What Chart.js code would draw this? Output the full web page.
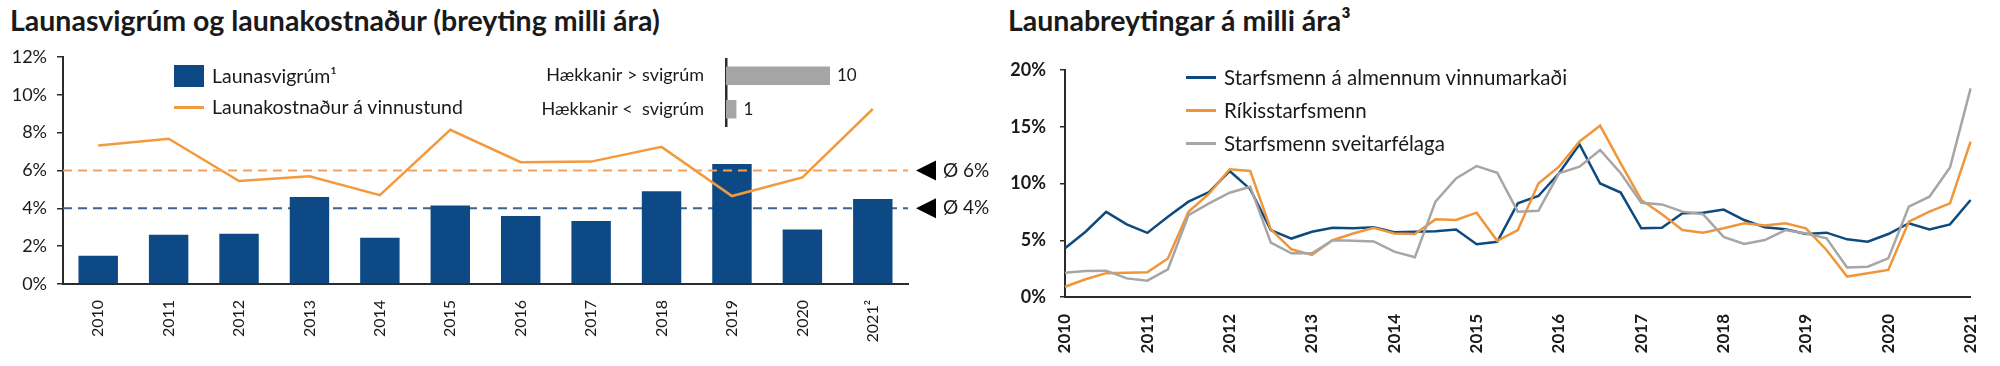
<!DOCTYPE html>
<html>
<head>
<meta charset="utf-8">
<script src="https://cdn.jsdelivr.net/npm/chart.js@4.4.1/dist/chart.umd.min.js"></script>
<style>
  html, body { margin: 0; padding: 0; background: #fff; }
  body { width: 2000px; height: 366px; position: relative; overflow: hidden; font-family: Lato, sans-serif; color: #1a1a1a; }
  .title { position: absolute; top: 3px; font-weight: bold; font-size: 28.5px; white-space: nowrap; }
  canvas { position: absolute; }
  .leg { position: absolute; white-space: nowrap; line-height: 22px; }
  .sw { position: absolute; }
</style>
</head>
<body>
<div class="title" style="left:10px">Launasvigrúm og launakostnaður (breyting milli ára)</div>
<div class="title" style="left:1008px">Launabreytingar á milli ára³</div>

<canvas id="chart-left" width="1000" height="366" style="left:0;top:0"></canvas>
<canvas id="chart-inset" width="370" height="117" style="left:500px;top:34px"></canvas>
<canvas id="chart-right" width="1000" height="366" style="left:1000px;top:0"></canvas>

<div class="sw" style="left:174px;top:65px;width:30px;height:22px;background:#0d4a85"></div>
<div class="leg" style="left:212px;top:65px;font-size:19.5px">Launasvigrúm¹</div>
<div class="sw" style="left:174px;top:106px;width:30px;height:3px;background:#f39a3e"></div>
<div class="leg" style="left:212px;top:96px;font-size:19.5px">Launakostnaður á vinnustund</div>

<div class="sw" style="left:1186px;top:76px;width:30px;height:3px;background:#0e4a7e"></div>
<div class="leg" style="left:1224px;top:66px;font-size:20.5px">Starfsmenn á almennum vinnumarkaði</div>
<div class="sw" style="left:1186px;top:109px;width:30px;height:3px;background:#f0963a"></div>
<div class="leg" style="left:1224px;top:99px;font-size:20.5px">Ríkisstarfsmenn</div>
<div class="sw" style="left:1186px;top:142px;width:30px;height:3px;background:#a6a6a6"></div>
<div class="leg" style="left:1224px;top:132px;font-size:20.5px">Starfsmenn sveitarfélaga</div>

<script>
// Left chart: yearly wage room vs. labour cost per hour (% change)
var YEARS = ['2010', '2011', '2012', '2013', '2014', '2015', '2016', '2017', '2018', '2019', '2020', '2021²'];
var LAUNASVIGRUM = [1.5, 2.6, 2.65, 4.6, 2.45, 4.15, 3.6, 3.33, 4.9, 6.35, 2.88, 4.5];
var LAUNAKOSTNADUR = [7.32, 7.68, 5.44, 5.7, 4.7, 8.15, 6.44, 6.47, 7.25, 4.65, 5.63, 9.25];
var AVG_KOSTNADUR = 6;
var AVG_SVIGRUM = 4;

// Inset: number of years with increases above / below the room
var INSET_LABELS = ['Hækkanir > svigrúm', 'Hækkanir <  svigrúm'];
var INSET_VALUES = [10, 1];

// Right chart: quarterly wage changes, 2010 Q1 .. 2021 Q1
var YEAR_TICKS = ['2010', '2011', '2012', '2013', '2014', '2015', '2016', '2017', '2018', '2019', '2020', '2021'];
var ALMENNUR = [4.3, 5.75, 7.5, 6.4, 5.65, 7.07, 8.4, 9.25, 11.1, 9.5, 5.9, 5.15,
                5.75, 6.1, 6.05, 6.15, 5.7, 5.75, 5.8, 5.95, 4.65, 4.87, 8.25, 8.9,
                10.9, 13.45, 10.0, 9.2, 6.05, 6.1, 7.37, 7.43, 7.7, 6.78, 6.14, 5.96,
                5.55, 5.67, 5.08, 4.87, 5.55, 6.5, 5.96, 6.4, 8.55];
var RIKIS = [0.9, 1.56, 2.1, 2.14, 2.17, 3.4, 7.5, 9.1, 11.25, 11.1, 5.96, 4.2,
             3.7, 5.0, 5.6, 6.1, 5.6, 5.55, 6.84, 6.78, 7.43, 4.95, 5.9, 10.0,
             11.48, 13.7, 15.1, 11.78, 8.55, 7.3, 5.9, 5.67, 6.05, 6.5, 6.3, 6.5,
             6.05, 4.14, 1.8, 2.09, 2.38, 6.64, 7.52, 8.25, 13.69];
var SVEITAR = [2.14, 2.29, 2.32, 1.64, 1.44, 2.44, 7.22, 8.25, 9.19, 9.72, 4.79, 3.85,
               3.85, 5.0, 4.96, 4.9, 4.0, 3.5, 8.4, 10.45, 11.54, 10.95, 7.52, 7.6,
               10.9, 11.48, 12.95, 10.9, 8.3, 8.16, 7.52, 7.3, 5.3, 4.67, 5.02, 5.9,
               5.6, 5.17, 2.61, 2.67, 3.4, 7.96, 8.84, 11.42, 18.38];

var FONT = 'Lato';
var INK = '#1a1a1a';
var AXIS = '#2b2b2b';

// one label per quarter, year shown on Q1 only
var QUARTERS = [];
for (var i = 0; i < YEAR_TICKS.length; i++) {
  for (var q = 0; q < 4; q++) {
    if (i === YEAR_TICKS.length - 1 && q > 0) break;
    QUARTERS.push(q === 0 ? YEAR_TICKS[i] : '');
  }
}

function pct(v) { return v + '%'; }

function avgLine(chart, value, color) {
  var ctx = chart.ctx, area = chart.chartArea;
  var py = chart.scales.y.getPixelForValue(value);
  ctx.save();
  ctx.strokeStyle = color;
  ctx.lineWidth = 2;
  ctx.setLineDash([9, 6]);
  ctx.beginPath();
  ctx.moveTo(area.left, py);
  ctx.lineTo(area.right, py);
  ctx.stroke();
  ctx.setLineDash([]);
  ctx.fillStyle = '#000';
  ctx.beginPath();
  ctx.moveTo(area.right + 8, py);
  ctx.lineTo(area.right + 28, py - 10);
  ctx.lineTo(area.right + 28, py + 10);
  ctx.closePath();
  ctx.fill();
  ctx.fillStyle = INK;
  ctx.font = '19px ' + FONT;
  ctx.textBaseline = 'middle';
  ctx.fillText('Ø ' + value + '%', area.right + 35, py);
  ctx.restore();
}

var avgPlugin = {
  id: 'avgLines',
  beforeDatasetsDraw: function(chart) { avgLine(chart, AVG_SVIGRUM, '#3f6489'); },
  afterDatasetsDraw: function(chart) { avgLine(chart, AVG_KOSTNADUR, '#f3a15a'); }
};

new Chart(document.getElementById('chart-left'), {
  type: 'bar',
  data: {
    labels: YEARS,
    datasets: [
      { type: 'line', data: LAUNAKOSTNADUR, borderColor: '#f39a3e', borderWidth: 2.5, pointRadius: 0, tension: 0, order: 0 },
      { data: LAUNASVIGRUM, backgroundColor: '#0d4a85', barPercentage: 0.56, categoryPercentage: 1, order: 1 }
    ]
  },
  options: {
    responsive: false,
    animation: false,
    layout: { padding: { top: 57, right: 92 } },
    plugins: { legend: { display: false }, tooltip: { enabled: false } },
    scales: {
      x: {
        grid: { display: false },
        border: { display: true, color: AXIS, width: 2 },
        ticks: { color: INK, font: { family: FONT, size: 16 }, minRotation: 90, maxRotation: 90, padding: 8, autoSkip: false },
        afterFit: function(s) { s.height = 82; }
      },
      y: {
        min: 0, max: 12,
        grid: { display: true, drawOnChartArea: false, drawTicks: true, tickLength: 6, color: AXIS, lineWidth: 1.5 },
        border: { display: true, color: AXIS, width: 2 },
        ticks: { stepSize: 2, color: INK, font: { family: FONT, size: 18 }, padding: 10, callback: pct },
        afterFit: function(s) { s.width = 63; }
      }
    }
  },
  plugins: [avgPlugin]
});

var valueLabels = {
  id: 'valueLabels',
  afterDatasetsDraw: function(chart) {
    var ctx = chart.ctx;
    ctx.save();
    ctx.fillStyle = INK;
    ctx.font = '17px ' + FONT;
    ctx.textBaseline = 'middle';
    chart.getDatasetMeta(0).data.forEach(function(bar, i) {
      ctx.fillText(INSET_VALUES[i], bar.x + 7, bar.y);
    });
    ctx.restore();
  }
};

new Chart(document.getElementById('chart-inset'), {
  type: 'bar',
  data: {
    labels: INSET_LABELS,
    datasets: [{ data: INSET_VALUES, backgroundColor: '#a5a5a5', barPercentage: 0.55, categoryPercentage: 1 }]
  },
  options: {
    indexAxis: 'y',
    responsive: false,
    animation: false,
    layout: { padding: { top: 0, bottom: 0, right: 14 } },
    plugins: { legend: { display: false }, tooltip: { enabled: false } },
    scales: {
      x: { display: false, min: 0, max: 12.5 },
      y: {
        grid: { display: false },
        border: { display: true, color: AXIS, width: 2.5 },
        ticks: { color: INK, font: { family: FONT, size: 18 }, padding: 14 },
        afterFit: function(s) { s.width = 226; }
      }
    }
  },
  plugins: [valueLabels]
});

function series(data, color) {
  return { data: data, borderColor: color, borderWidth: 2.5, pointRadius: 0, tension: 0 };
}

new Chart(document.getElementById('chart-right'), {
  type: 'line',
  data: {
    labels: QUARTERS,
    datasets: [
      series(SVEITAR, '#a6a6a6'),
      series(RIKIS, '#f0963a'),
      series(ALMENNUR, '#0e4a7e')
    ]
  },
  options: {
    responsive: false,
    animation: false,
    layout: { padding: { top: 70, right: 24 } },
    plugins: { legend: { display: false }, tooltip: { enabled: false } },
    scales: {
      x: {
        offset: false,
        grid: { display: false },
        border: { display: true, color: AXIS, width: 2 },
        ticks: {
          color: INK, font: { family: FONT, size: 17, weight: 'bold' }, minRotation: 90, maxRotation: 90, padding: 9, autoSkip: false,
          callback: function(v, i) { return QUARTERS[i] === '' ? null : QUARTERS[i]; }
        },
        afterFit: function(s) { s.height = 69; }
      },
      y: {
        min: 0, max: 20,
        grid: { display: true, drawOnChartArea: false, drawTicks: true, tickLength: 5, color: AXIS, lineWidth: 1.5 },
        border: { display: true, color: AXIS, width: 2 },
        ticks: { stepSize: 5, color: INK, font: { family: FONT, size: 18, weight: 'bold' }, padding: 14, callback: pct },
        afterFit: function(s) { s.width = 65; }
      }
    }
  }
});
</script>
</body>
</html>
